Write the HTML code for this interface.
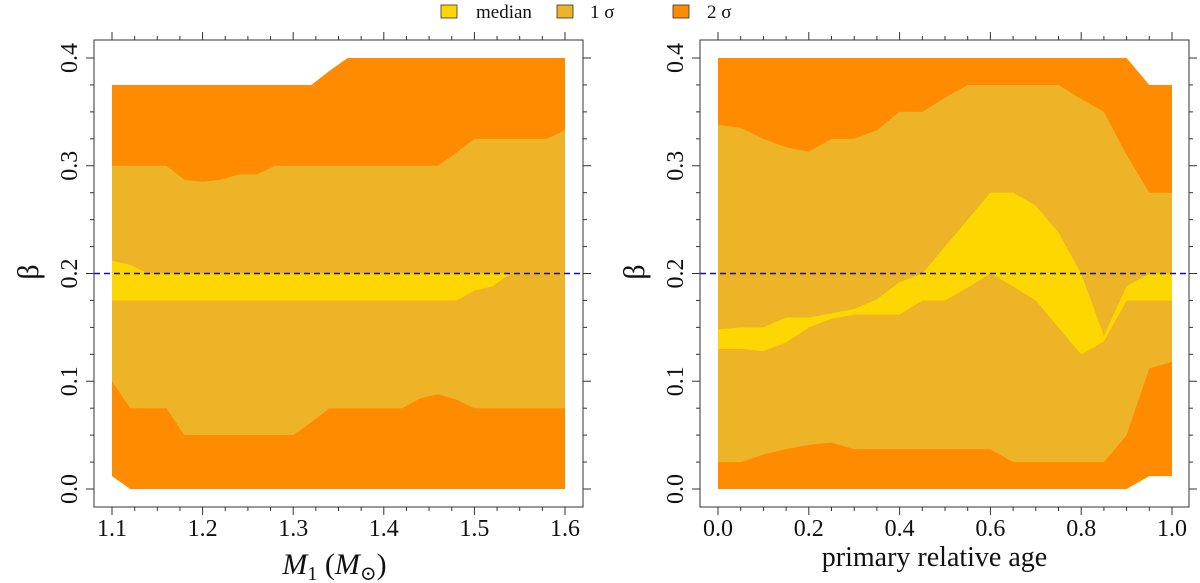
<!DOCTYPE html>
<html><head><meta charset="utf-8"><style>
html,body{margin:0;padding:0;background:#fff;width:1200px;height:583px;overflow:hidden}
svg{display:block;font-family:"Liberation Serif","DejaVu Serif",serif}
</style></head><body>
<svg id="c" width="1200" height="583"></svg>
<script>
const leftX=[1.1,1.12,1.14,1.16,1.18,1.2,1.22,1.24,1.26,1.28,1.3,1.32,1.34,1.36,1.38,1.4,1.42,1.44,1.46,1.48,1.5,1.52,1.54,1.56,1.58,1.6];
const leftUp2=[0.375,0.375,0.375,0.375,0.375,0.375,0.375,0.375,0.375,0.375,0.375,0.375,0.388,0.4,0.4,0.4,0.4,0.4,0.4,0.4,0.4,0.4,0.4,0.4,0.4,0.4];
const leftUp1=[0.3,0.3,0.3,0.3,0.287,0.285,0.287,0.292,0.292,0.3,0.3,0.3,0.3,0.3,0.3,0.3,0.3,0.3,0.3,0.312,0.325,0.325,0.325,0.325,0.325,0.333];
const leftMedHi=[0.212,0.208,0.2,0.2,0.2,0.2,0.2,0.2,0.2,0.2,0.2,0.2,0.2,0.2,0.2,0.2,0.2,0.2,0.2,0.2,0.2,0.2,0.2,0.2,0.2,0.2];
const leftMedLo=[0.175,0.175,0.175,0.175,0.175,0.175,0.175,0.175,0.175,0.175,0.175,0.175,0.175,0.175,0.175,0.175,0.175,0.175,0.175,0.175,0.184,0.188,0.2,0.2,0.2,0.2];
const leftLo1=[0.1,0.075,0.075,0.075,0.05,0.05,0.05,0.05,0.05,0.05,0.05,0.062,0.075,0.075,0.075,0.075,0.075,0.084,0.088,0.083,0.075,0.075,0.075,0.075,0.075,0.075];
const leftLo2=[0.012,0,0,0,0,0,0,0,0,0,0,0,0,0,0,0,0,0,0,0,0,0,0,0,0,0];

const rightX=[0,0.05,0.1,0.15,0.2,0.25,0.3,0.35,0.4,0.45,0.5,0.55,0.6,0.65,0.7,0.75,0.8,0.85,0.9,0.95,1.0];
const rightUp2=[0.4,0.4,0.4,0.4,0.4,0.4,0.4,0.4,0.4,0.4,0.4,0.4,0.4,0.4,0.4,0.4,0.4,0.4,0.4,0.375,0.375];
const rightUp1=[0.338,0.335,0.325,0.317,0.313,0.325,0.325,0.333,0.35,0.35,0.363,0.375,0.375,0.375,0.375,0.375,0.362,0.35,0.31,0.275,0.275];
const rightMedHi=[0.148,0.15,0.15,0.159,0.159,0.163,0.167,0.176,0.192,0.2,0.225,0.25,0.275,0.275,0.263,0.238,0.2,0.142,0.188,0.2,0.2];
const rightMedLo=[0.13,0.13,0.128,0.136,0.15,0.158,0.162,0.162,0.162,0.175,0.175,0.187,0.2,0.188,0.175,0.15,0.125,0.137,0.175,0.175,0.175];
const rightLo1=[0.025,0.025,0.032,0.037,0.041,0.043,0.037,0.037,0.037,0.037,0.037,0.037,0.037,0.025,0.025,0.025,0.025,0.025,0.05,0.112,0.118];
const rightLo2=[0,0,0,0,0,0,0,0,0,0,0,0,0,0,0,0,0,0,0,0.012,0.012];

const leftTicks=["1.1","1.2","1.3","1.4","1.5","1.6"];
const rightTicks=["0.0","0.2","0.4","0.6","0.8","1.0"];
const yTicks=["0.0","0.1","0.2","0.3","0.4"];
const refBeta=0.2;

const NS="http://www.w3.org/2000/svg";
const svg=document.getElementById('c');
function mk(tag,attrs,parent){const e=document.createElementNS(NS,tag);for(const k in attrs)e.setAttribute(k,attrs[k]);(parent||svg).appendChild(e);return e;}
const C2="#FF8C00",C1="#EDB427",CM="#FFD700";

function panel(name,box,x0,x1,px0,px1,xs,up2,up1,mhi,mlo,lo1,lo2,xt,minorStep,xtitle){
  const g=mk('g',{});
  
  
  const sx=v=>px0+(v-x0)/(x1-x0)*(px1-px0);
  const sy=v=>489-(v/0.4)*(489-58);
  function band(hi,lo,col,nm){
    let pts=xs.map((x,i)=>sx(x)+','+sy(hi[i]));
    for(let i=xs.length-1;i>=0;i--)pts.push(sx(xs[i])+','+sy(lo[i]));
    const p=mk('polygon',{points:pts.join(' '),fill:col},g);
    
    
  }
  band(up2,lo2,C2,'band-2-sigma');
  band(up1,lo1,C1,'band-1-sigma');
  band(mhi,mlo,CM,'band-median');
  const dl=mk('line',{x1:box[0],x2:box[2],y1:sy(refBeta),y2:sy(refBeta),stroke:"#1010b0","stroke-width":1.4,"stroke-dasharray":"6,4"},g);
  
  
  const fr=mk('rect',{x:box[0],y:box[1],width:box[2]-box[0],height:box[3]-box[1],fill:"none",stroke:"#333","stroke-width":1},g);
  
  
  const n=Math.round((x1-x0)/minorStep);
  for(let i=0;i<=n;i++){
    const v=x0+i*minorStep, X=sx(v);
    const major=Math.abs(((v-x0)/(x1-x0)*5)-Math.round((v-x0)/(x1-x0)*5))<1e-6;
    const L=major?8:4;
    mk('line',{x1:X,x2:X,y1:box[3],y2:box[3]+L,stroke:"#333"},g);
    mk('line',{x1:X,x2:X,y1:box[1],y2:box[1]-L,stroke:"#333"},g);
  }
  xt.forEach((t,i)=>{
    const X=sx(x0+i*(x1-x0)/5);
    const tx=mk('text',{x:X,y:536,"text-anchor":"middle","font-size":24,fill:"#111"},g);
    tx.textContent=t;
    
    
  });
  for(let i=0;i<=16;i++){
    const Y=sy(i*0.025), L=(i%4==0)?8:4;
    mk('line',{x1:box[0],x2:box[0]-L,y1:Y,y2:Y,stroke:"#333"},g);
    mk('line',{x1:box[2],x2:box[2]+L,y1:Y,y2:Y,stroke:"#333"},g);
  }
  yTicks.forEach((t,i)=>{
    const Y=sy(i*0.1), X=box[0]-17;
    const tx=mk('text',{x:X,y:Y,"text-anchor":"middle","font-size":24,fill:"#111",transform:`rotate(-90 ${X} ${Y})`},g);
    tx.textContent=t;
    
    
  });
  const yt=mk('text',{x:box[0]-56,y:272,"text-anchor":"middle","font-size":30,fill:"#111",transform:`rotate(-90 ${box[0]-56} 272)`},g);
  yt.textContent="β";
  
  
  xtitle(g,(box[0]+box[2])/2);
}

panel('left-panel',[94,40,583,507],1.1,1.6,112,565,leftX,leftUp2,leftUp1,leftMedHi,leftMedLo,leftLo1,leftLo2,leftTicks,0.025,(g,cx)=>{
  const t=mk('text',{x:cx-4,y:574,"text-anchor":"middle","font-size":30,fill:"#111"},g);
  t.innerHTML='<tspan font-style="italic">M</tspan><tspan font-size="20" dy="6">1</tspan><tspan dy="-6"> (</tspan><tspan font-style="italic">M</tspan><tspan font-size="20" dy="6">⊙</tspan><tspan dy="-6">)</tspan>';
  
  
});
panel('right-panel',[700,40,1189,507],0,1,718,1172,rightX,rightUp2,rightUp1,rightMedHi,rightMedLo,rightLo1,rightLo2,rightTicks,0.05,(g,cx)=>{
  const t=mk('text',{x:cx-10,y:566,"text-anchor":"middle","font-size":28,fill:"#111"},g);
  t.textContent="primary relative age";
  
  
});

const lg=mk('g',{});


[[441,CM,"median",476,'legend-median'],[557,C1,"1 σ",590,'legend-1-sigma'],[673,C2,"2 σ",707,'legend-2-sigma']].forEach(e=>{
  const it=mk('g',{},lg);
  
  
  mk('rect',{x:e[0],y:5,width:16,height:13,fill:e[1],stroke:"#333","stroke-width":0.8},it);
  const t=mk('text',{x:e[3],y:18,"font-size":19,fill:"#111"},it);
  t.textContent=e[2];
});
</script>
</body></html>
